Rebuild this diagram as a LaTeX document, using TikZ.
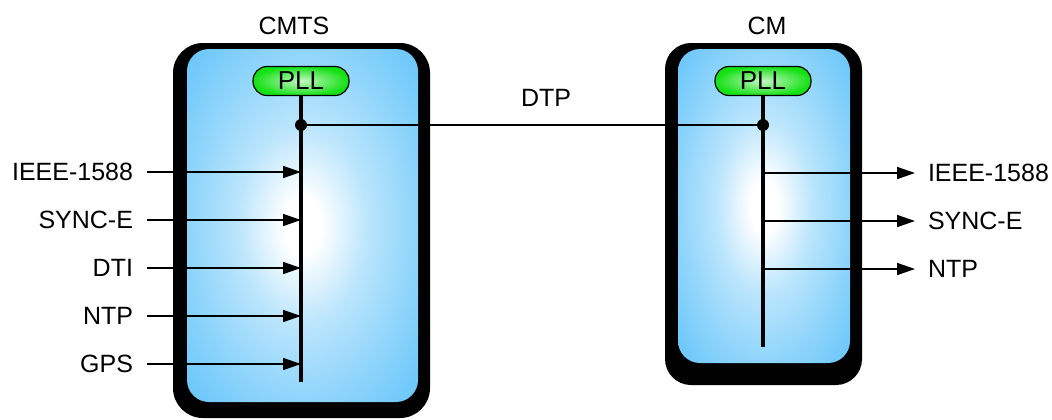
\documentclass[tikz,border=0pt]{standalone}
\usepackage{fontspec}
\setmainfont{Liberation Sans}
\usetikzlibrary{arrows.meta}
\definecolor{boxblue}{RGB}{104,198,250}
\definecolor{pllgreen}{RGB}{20,225,20}
\pgfdeclareradialshading{boxglow}{\pgfpoint{0bp}{0bp}}{color(0bp)=(white);
  color(4bp)=(white); color(14bp)=(boxblue!45!white); color(25bp)=(boxblue!75!white);
  color(35bp)=(boxblue); color(50bp)=(boxblue)}

\begin{document}
\begin{tikzpicture}[x=0.5pt,y=-0.5pt,
  lbl/.style={font=\fontsize{12.5}{14}\selectfont, inner sep=0pt},
  sig/.style={-{Triangle[length=9pt,width=6pt]}, line width=0.75pt},
  bus/.style={line width=1.6pt},
  pll/.style={draw, line width=0.6pt, rounded corners=7pt, minimum width=48pt,
    minimum height=14.5pt, inner sep=0pt, inner color=white!75!pllgreen,
    outer color=pllgreen, font=\fontsize{13}{14}\selectfont}]
\useasboundingbox (0,0) rectangle (1052,419);

% boxes
\fill[rounded corners=15pt] (173,43) rectangle (430,418);
\shade[rounded corners=11pt, shading=boxglow] (187,49) rectangle (418,402);
\fill[rounded corners=13pt] (665,43) rectangle (862,385);
\shade[rounded corners=11pt, shading=boxglow] (678,49) rectangle (850,363);

\node[lbl] (cmtstitle) at (294,26) {CMTS};
\node[lbl] (cmtitle) at (767,26) {CM};

% PLLs and buses
\node[pll] (cmtspll) at (301,81) {PLL};
\node[pll] (cmpll) at (763,81) {PLL};
\coordinate (cmtsdot) at (301,125);
\coordinate (cmdot) at (763,125);
\coordinate (cmtsend) at (301,382);
\coordinate (cmend) at (763,347);

\foreach \y/\t [count=\i] in {172/IEEE-1588, 220/SYNC-E, 268/DTI, 316/NTP, 364/GPS} {
  \node[lbl, anchor=east, outer xsep=7pt] (in\i) at (147,\y) {\t};
  \draw[sig] (in\i.east) -- (in\i.east -| cmtsdot);
}
\foreach \y/\t [count=\i] in {173/IEEE-1588, 221/SYNC-E, 269/NTP} {
  \node[lbl, anchor=west, outer xsep=6.5pt] (out\i) at (915,\y) {\t};
  \draw[sig] (out\i.west -| cmdot) -- (out\i.west);
}

\draw[bus] (cmtspll.south) -- (cmtsend);
\draw[bus] (cmpll.south) -- (cmend);

% DTP link
\draw[line width=0.75pt] (cmtsdot) -- (cmdot);
\fill (cmtsdot) circle (3pt);
\fill (cmdot) circle (3pt);
\node[lbl] (dtp) at (546,98) {DTP};
\end{tikzpicture}
\end{document}
